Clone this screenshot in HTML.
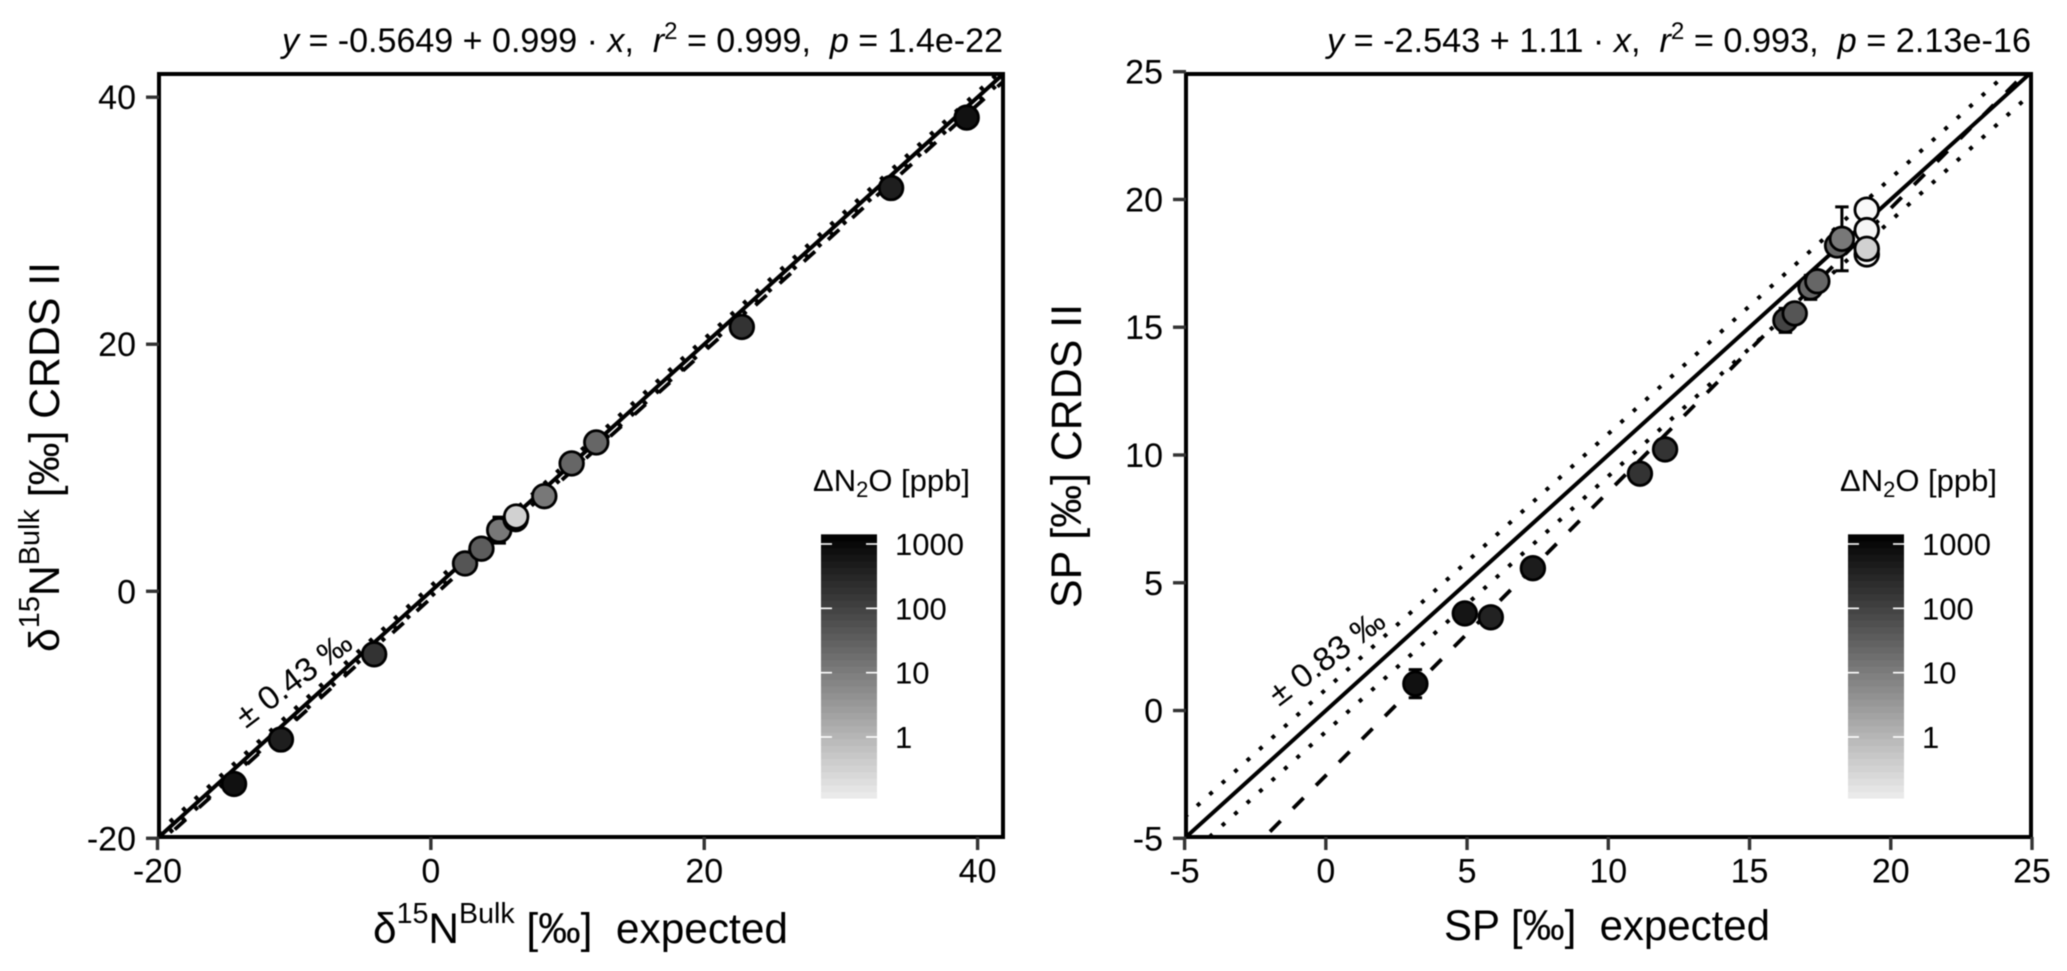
<!DOCTYPE html>
<html lang="en">
<head>
<meta charset="utf-8">
<title>CRDS II calibration scatter plots</title>
<style>
html,body{margin:0;padding:0;background:#fff;}
body{width:2067px;height:971px;overflow:hidden;}
svg{display:block;font-family:"Liberation Sans",Arial,sans-serif;fill:#000;filter:blur(0.4px);}
text{white-space:pre;}
</style>
</head>
<body>
<svg id="chart" width="2067" height="971" viewBox="0 0 2067 971" xmlns="http://www.w3.org/2000/svg">
  <rect x="0" y="0" width="2067" height="971" fill="#fff"/>
  <defs>
    <clipPath id="clip-bulk"><rect x="159" y="74" width="844" height="763"/></clipPath>
    <clipPath id="clip-sp"><rect x="1186" y="74" width="845" height="763"/></clipPath>
  </defs>
  <g id="panel-bulk"></g>
  <g id="panel-sp"></g>

  <text x="282" y="52" font-size="34" textLength="721" lengthAdjust="spacingAndGlyphs"><tspan font-style="italic">y</tspan> = -0.5649 + 0.999 · <tspan font-style="italic">x</tspan>,  <tspan font-style="italic">r</tspan><tspan font-size="24" dy="-13">2</tspan><tspan dy="13"> = 0.999,  </tspan><tspan font-style="italic">p</tspan> = 1.4e-22</text>
  <text x="1327" y="52" font-size="34" textLength="704" lengthAdjust="spacingAndGlyphs"><tspan font-style="italic">y</tspan> = -2.543 + 1.11 · <tspan font-style="italic">x</tspan>,  <tspan font-style="italic">r</tspan><tspan font-size="24" dy="-13">2</tspan><tspan dy="13"> = 0.993,  </tspan><tspan font-style="italic">p</tspan> = 2.13e-16</text>

  <text x="373" y="943" font-size="43" textLength="415" lengthAdjust="spacingAndGlyphs">δ<tspan font-size="29" dy="-20">15</tspan><tspan dy="20">N</tspan><tspan font-size="29" dy="-20">Bulk</tspan><tspan dy="20"> [‰]  expected</tspan></text>
  <text transform="translate(59 652) rotate(-90)" x="0" y="0" font-size="43" textLength="390" lengthAdjust="spacingAndGlyphs">δ<tspan font-size="29" dy="-20">15</tspan><tspan dy="20">N</tspan><tspan font-size="29" dy="-20">Bulk</tspan><tspan dy="20"> [‰] CRDS II</tspan></text>
  <text x="1444" y="940" font-size="43" textLength="326" lengthAdjust="spacingAndGlyphs">SP [‰]  expected</text>
  <text transform="translate(1081 608) rotate(-90)" x="0" y="0" font-size="43" textLength="304" lengthAdjust="spacingAndGlyphs">SP [‰] CRDS II</text>

  <text transform="translate(246 729) rotate(-37)" x="0" y="0" font-size="33" textLength="136" lengthAdjust="spacingAndGlyphs">± 0.43 ‰</text>
  <text transform="translate(1279 707) rotate(-37)" x="0" y="0" font-size="33" textLength="136" lengthAdjust="spacingAndGlyphs">± 0.83 ‰</text>

  <text x="813" y="491" font-size="31" textLength="157" lengthAdjust="spacingAndGlyphs">ΔN<tspan font-size="22" dy="6">2</tspan><tspan dy="-6">O [ppb]</tspan></text>
  <text x="1840" y="491" font-size="31" textLength="157" lengthAdjust="spacingAndGlyphs">ΔN<tspan font-size="22" dy="6">2</tspan><tspan dy="-6">O [ppb]</tspan></text>
</svg>
<script>
// Left panel: delta 15N bulk
const bulkExpected = [-14.4, -10.97, -4.15, 2.5, 3.7, 5.0, 6.2, 6.24, 8.3, 10.3, 12.1, 22.75, 33.67, 39.2];
const bulkMeasured = [-15.6, -12.0, -5.1, 2.25, 3.45, 4.95, 5.84, 6.05, 7.7, 10.35, 12.05, 21.4, 32.65, 38.35];
const bulkError = [0.2, 0.2, 0.2, 0.2, 0.2, 1.05, 0.3, 0.2, 0.2, 0.2, 0.2, 0.2, 0.2, 0.2];
const bulkPpb = [725, 430, 186, 48, 36, 12, 600, 0.35, 12, 24, 24, 186, 430, 725];
const bulkXTicks = [-20, 0, 20, 40];
const bulkYTicks = [-20, 0, 20, 40];
const bulkIntercept = -0.5649;
const bulkSlope = 0.999;
const bulkBand = 0.43;

// Right panel: site preference
const spExpected = [3.17, 4.92, 5.84, 7.33, 11.12, 12.01, 16.27, 16.6, 17.16, 17.4, 18.1, 18.27, 19.15, 19.15, 19.15, 19.15];
const spMeasured = [1.05, 3.8, 3.65, 5.57, 9.27, 10.22, 15.27, 15.54, 16.56, 16.8, 18.2, 18.46, 19.6, 18.8, 17.85, 18.07];
const spError = [0.55, 0.2, 0.2, 0.2, 0.2, 0.2, 0.47, 0.2, 0.47, 0.2, 0.2, 1.25, 0.2, 0.2, 0.2, 0.2];
const spPpb = [725, 615, 363, 468, 186, 186, 95, 48, 24, 24, 24, 12, 0.07, 0.08, 0.06, 0.35];
const spXTicks = [-5, 0, 5, 10, 15, 20, 25];
const spYTicks = [-5, 0, 5, 10, 15, 20, 25];
const spIntercept = -2.543;
const spSlope = 1.11;
const spBand = 0.83;

// Colour bar
const legendTicks = [1000, 100, 10, 1];
const legendBins = 40;
const legendMinLog = -0.95;
const legendMaxLog = 3.15;

const NS = 'http://www.w3.org/2000/svg';

function make(tag, parent, attrs) {
  const el = document.createElementNS(NS, tag);
  for (const k in attrs) el.setAttribute(k, attrs[k]);
  parent.appendChild(el);
  return el;
}
function linear(d0, d1, r0, r1) {
  return v => r0 + (v - d0) * (r1 - r0) / (d1 - d0);
}
function grayFor(logPpb) {
  const g = Math.max(0, Math.min(255, Math.round(240 - 57.8 * (logPpb + 1))));
  return 'rgb(' + g + ',' + g + ',' + g + ')';
}

function drawColorbar(parent, barX) {
  const barW = 56;
  const ly = linear(0, 3, 737, 544);
  const step = (legendMaxLog - legendMinLog) / legendBins;
  for (let i = 0; i < legendBins; i++) {
    const lo = legendMinLog + i * step;
    const hi = lo + step;
    const bin = make('rect', parent, {
      x: barX, y: ly(hi), width: barW, height: ly(lo) - ly(hi) + 0.5,
      fill: grayFor((lo + hi) / 2)
    });
    
    
  }
  legendTicks.forEach(t => {
    const y = ly(Math.log10(t));
    const a = make('line', parent, { x1: barX, x2: barX + 11, y1: y, y2: y, stroke: '#fff', 'stroke-width': 1.6 });
    
    
    const b = make('line', parent, { x1: barX + barW - 11, x2: barX + barW, y1: y, y2: y, stroke: '#fff', 'stroke-width': 1.6 });
    
    
    const label = make('text', parent, { x: barX + 74, y: y + 11, 'font-size': 31 });
    label.textContent = String(t);
    
    
  });
}

function drawPanel(cfg) {
  const g = document.getElementById(cfg.group);
  const x = linear(cfg.xDom[0], cfg.xDom[1], cfg.xRange[0], cfg.xRange[1]);
  const y = linear(cfg.yDom[0], cfg.yDom[1], cfg.yRange[0], cfg.yRange[1]);
  const clipped = make('g', g, { 'clip-path': 'url(#' + cfg.clip + ')' });
  
  

  const xa = cfg.xDom[0], xb = cfg.xEnd;
  function fnLine(a, b, extra) {
    return make('line', clipped, Object.assign({
      x1: x(xa), y1: y(a + b * xa), x2: x(xb), y2: y(a + b * xb), stroke: '#000', fill: 'none'
    }, extra));
  }
  const oneToOne = fnLine(0, 1, { 'stroke-width': 4 });
  
  

  const upper = fnLine(cfg.band, 1, { 'stroke-width': 4, 'stroke-dasharray': '4 12.8' });
  
  

  const lower = fnLine(-cfg.band, 1, { 'stroke-width': 4, 'stroke-dasharray': '4 12.8' });
  
  

  const fit = fnLine(cfg.intercept, cfg.slope, { 'stroke-width': 3.8, 'stroke-dasharray': '15 17.6', 'stroke-dashoffset': -23.2 });
  
  

  cfg.px.forEach((v, i) => {
    const cx = x(v), top = y(cfg.py[i] + cfg.err[i]), bot = y(cfg.py[i] - cfg.err[i]);
    const bar = make('path', g, {
      d: 'M' + (cx - 6.7) + ' ' + top + 'H' + (cx + 6.7) + 'M' + cx + ' ' + top + 'V' + bot + 'M' + (cx - 6.7) + ' ' + bot + 'H' + (cx + 6.7),
      stroke: '#000', 'stroke-width': 3, fill: 'none'
    });
    
    
  });
  cfg.px.forEach((v, i) => {
    const pt = make('circle', g, {
      cx: x(v), cy: y(cfg.py[i]), r: 11.8,
      fill: grayFor(Math.log10(cfg.ppb[i])), stroke: '#000', 'stroke-width': 2.8
    });
    
    
  });

  const frame = make('rect', g, {
    x: cfg.box[0], y: cfg.box[1], width: cfg.box[2], height: cfg.box[3],
    fill: 'none', stroke: '#000', 'stroke-width': 4
  });
  
  

  cfg.xTicks.forEach(t => {
    const tick = make('line', g, { x1: x(t), x2: x(t), y1: cfg.box[1] + cfg.box[3], y2: cfg.box[1] + cfg.box[3] + 13, stroke: '#333', 'stroke-width': 3.4 });
    
    
    const label = make('text', g, { x: x(t), y: 882.5, 'font-size': 34, 'text-anchor': 'middle' });
    label.textContent = String(t);
    
    
  });
  cfg.yTicks.forEach(t => {
    const tick = make('line', g, { x1: cfg.box[0] - 13, x2: cfg.box[0], y1: y(t), y2: y(t), stroke: '#333', 'stroke-width': 3.4 });
    
    
    const label = make('text', g, { x: cfg.box[0] - 23, y: y(t) + 12, 'font-size': 34, 'text-anchor': 'end' });
    label.textContent = String(t);
    
    
  });

  const legend = make('g', g, {});
  
  
  drawColorbar(legend, cfg.legendX);
}

drawPanel({
  group: 'panel-bulk', clip: 'clip-bulk',
  xDom: [-20, 40], xRange: [157.5, 977.6], xEnd: 42,
  yDom: [-20, 40], yRange: [838.3, 97.2],
  box: [159, 74, 844, 763],
  px: bulkExpected, py: bulkMeasured, err: bulkError, ppb: bulkPpb,
  xTicks: bulkXTicks, yTicks: bulkYTicks,
  intercept: bulkIntercept, slope: bulkSlope, band: bulkBand,
  legendX: 821
});
drawPanel({
  group: 'panel-sp', clip: 'clip-sp',
  xDom: [-5, 25], xRange: [1184.6, 2032], xEnd: 25,
  yDom: [-5, 25], yRange: [838.3, 71.7],
  box: [1186, 74, 845, 763],
  px: spExpected, py: spMeasured, err: spError, ppb: spPpb,
  xTicks: spXTicks, yTicks: spYTicks,
  intercept: spIntercept, slope: spSlope, band: spBand,
  legendX: 1848
});
</script>
</body>
</html>
